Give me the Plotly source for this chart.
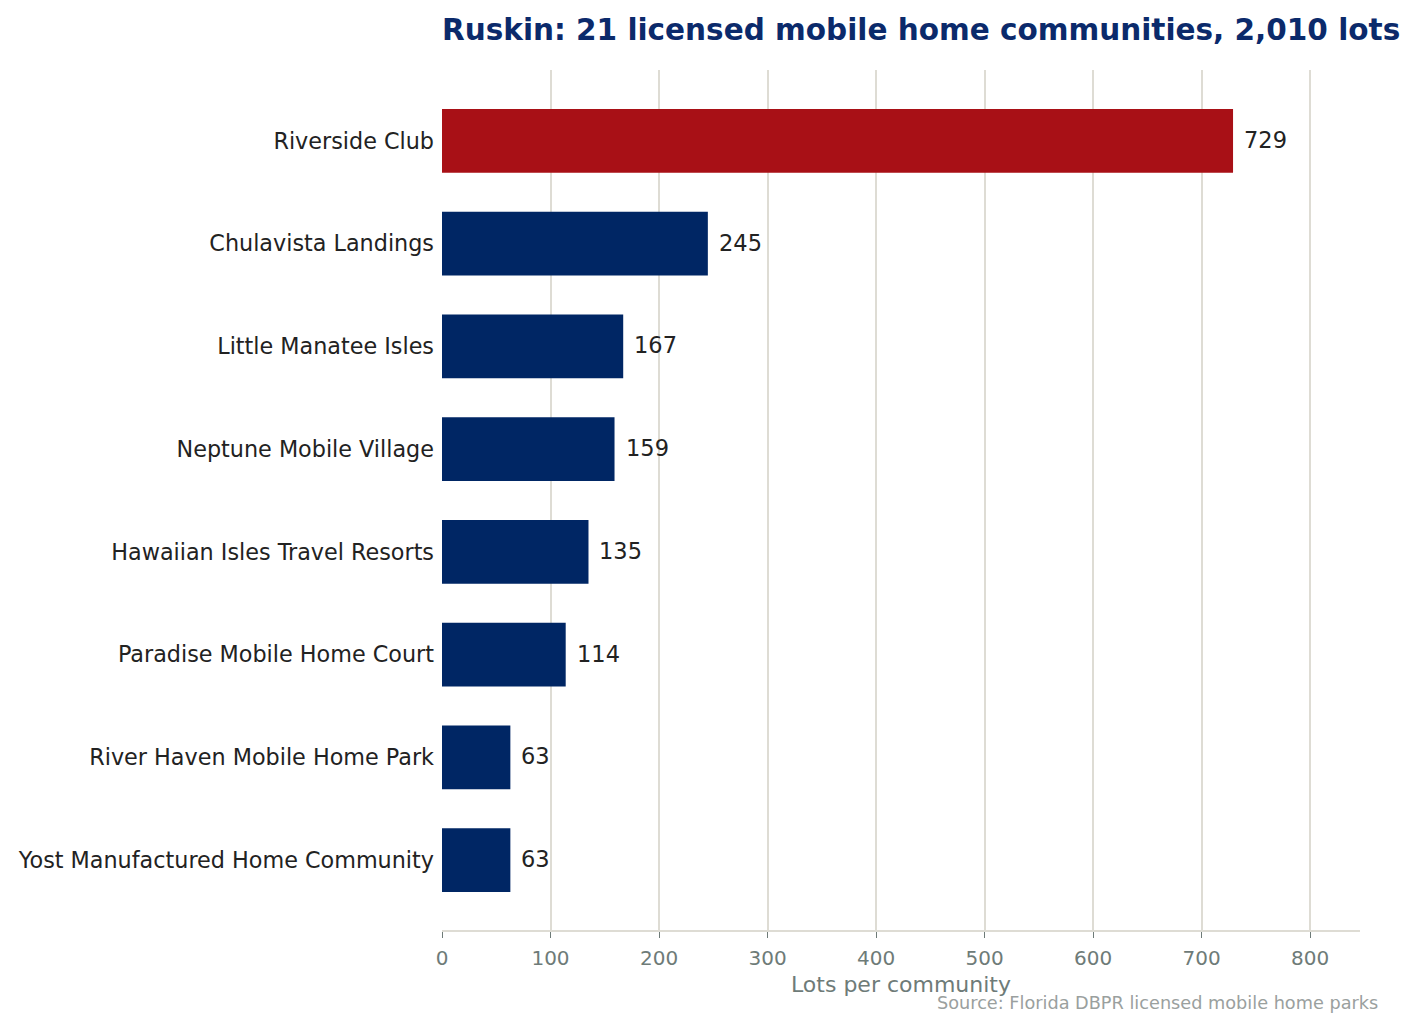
import plotly.graph_objects as go

communities = [
    "Riverside Club",
    "Chulavista Landings",
    "Little Manatee Isles",
    "Neptune Mobile Village",
    "Hawaiian Isles Travel Resorts",
    "Paradise Mobile Home Court",
    "River Haven Mobile Home Park",
    "Yost Manufactured Home Community",
]
lots = [729, 245, 167, 159, 135, 114, 63, 63]
x_ticks = [0, 100, 200, 300, 400, 500, 600, 700, 800]

NAVY = "#002664"
RED = "#A81016"
colors = [RED if v == max(lots) else NAVY for v in lots]

# page body has an 8px margin, so the figure is offset by (8, 8)
W, H = 1416, 1030
L, R, T, B = 434, 64, 62, 108

fig = go.Figure(
    go.Bar(
        x=lots,
        y=communities,
        orientation="h",
        width=0.62,
        marker=dict(color=colors, line=dict(width=0)),
        hoverinfo="x+y",
    )
)

for v, c in zip(lots, communities):
    fig.add_annotation(
        x=v, y=c, text=str(v), showarrow=False,
        xanchor="left", yanchor="middle", xshift=9, yshift=1,
        font=dict(size=22.5, color="#222222"),
    )

fig.update_layout(
    width=W,
    height=H,
    paper_bgcolor="white",
    plot_bgcolor="white",
    margin=dict(l=L, r=R, t=T, b=B, autoexpand=False),
    font=dict(family="DejaVu Sans", color="#222222"),
    title=dict(
        text="<b>Ruskin: 21 licensed mobile home communities, 2,010 lots</b>",
        font=dict(size=29.5, color="#0B2A6B", family="DejaVu Sans"),
        x=L / W,
        xanchor="left",
        y=1 - 22 / H,
        yanchor="middle",
    ),
    showlegend=False,
)

fig.update_xaxes(
    range=[0, 846],
    tickvals=x_ticks,
    automargin=False,
    showgrid=True,
    gridcolor="#DEDCD4",
    gridwidth=1.5,
    zeroline=False,
    showline=True,
    linecolor="#DEDCD4",
    linewidth=2,
    ticks="outside",
    ticklen=6,
    tickcolor="#6E7B78",
    ticklabelstandoff=3,
    tickfont=dict(size=20, color="#6E7B78"),
    title=dict(text="Lots per community", font=dict(size=22, color="#6E7B78"), standoff=8),
)

fig.update_yaxes(
    autorange=False,
    range=[7.68, -0.69],
    automargin=False,
    showgrid=False,
    showline=False,
    ticks="",
    ticklabelstandoff=7,
    tickfont=dict(size=22.3, color="#222222"),
)

fig.add_annotation(
    text="Source: Florida DBPR licensed mobile home parks",
    xref="paper",
    yref="paper",
    x=(1372 - L) / (W - L - R),
    y=-(995 - (H - B)) / (H - T - B),
    xanchor="right",
    yanchor="middle",
    showarrow=False,
    font=dict(size=17.7, color="#9AA09E"),
)

fig.write_html("out.html")
